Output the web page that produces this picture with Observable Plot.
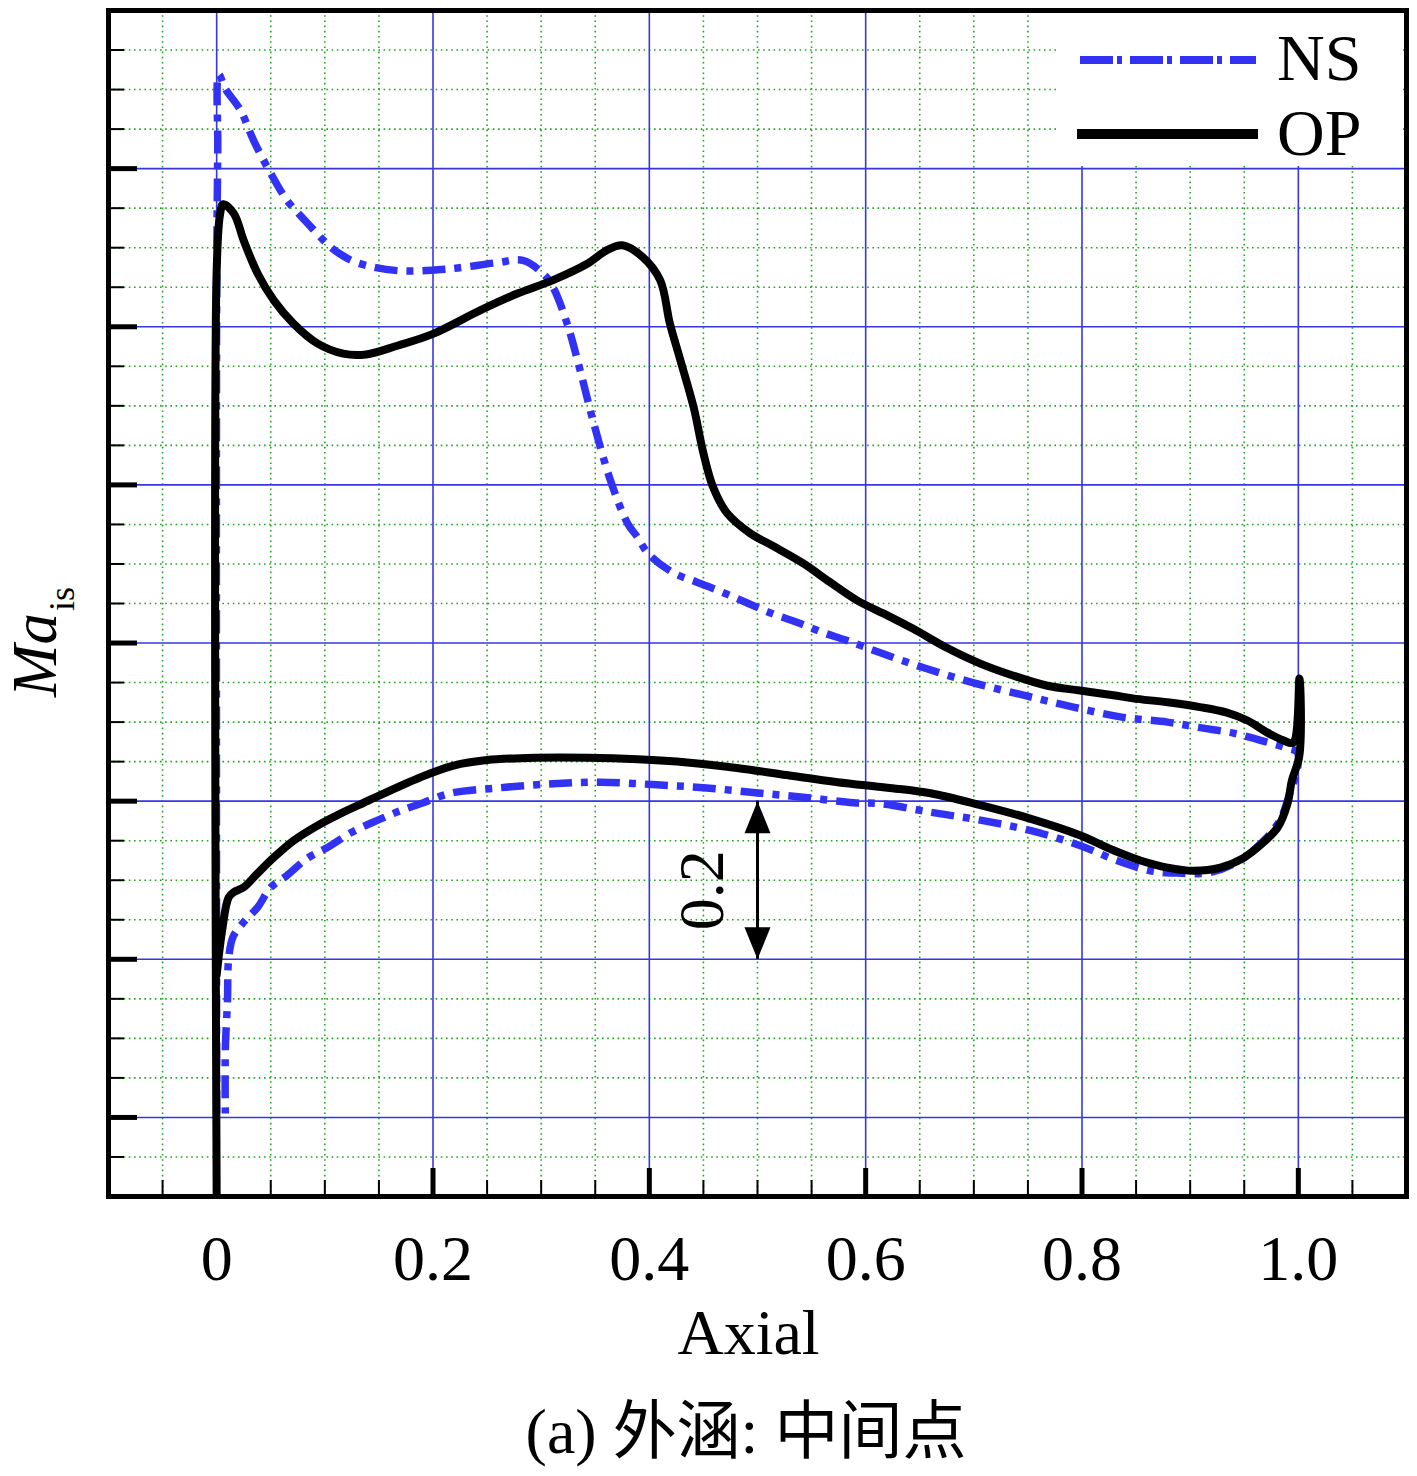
<!DOCTYPE html>
<html>
<head>
<meta charset="utf-8">
<script src="https://cdn.jsdelivr.net/npm/d3@7"></script>
<script src="https://cdn.jsdelivr.net/npm/@observablehq/plot@0.6"></script>
<style>
  html, body { margin: 0; padding: 0; background: #fff; }
  #chart svg { display: block; }
  #caption {
    width: 1417px; box-sizing: border-box; padding-left: 75px;
    text-align: center; font-family: "Liberation Serif", "Noto Sans CJK SC", serif;
    font-size: 64px; line-height: 80px; height: 96px; margin-top: 12px; color: #000;
  }
</style>
</head>
<body>
<div id="chart"></div>
<div id="caption">(a) 外涵: 中间点</div>
<script>
// ---- data ----
// OP (solid black): leading edge -> suction side -> trailing edge -> pressure side -> leading edge
const opX = [0.000, 0.000, 0.003, 0.006, 0.016, 0.025, 0.038, 0.053, 0.071, 0.093, 0.117, 0.138, 0.167, 0.200,
  0.244, 0.278, 0.311, 0.343, 0.361, 0.375, 0.394, 0.410, 0.419, 0.428, 0.441, 0.450, 0.459, 0.472, 0.493,
  0.514, 0.542, 0.567, 0.592, 0.620, 0.644, 0.675, 0.706, 0.736, 0.768, 0.798, 0.829, 0.847, 0.879, 0.909,
  0.934, 0.953, 0.971, 0.986, 0.995, 1.001, 1.001,
  0.994, 0.990, 0.981, 0.967, 0.949, 0.928, 0.903, 0.879, 0.854, 0.829, 0.798, 0.752, 0.706, 0.660, 0.620,
  0.574, 0.527, 0.481, 0.435, 0.389, 0.343, 0.296, 0.250, 0.219, 0.188, 0.136, 0.114, 0.093, 0.071, 0.053,
  0.038, 0.025, 0.016, 0.011, 0.005, 0.000];
const opY = [-0.100, 1.071, 1.141, 1.155, 1.143, 1.109, 1.067, 1.033, 1.004, 0.979, 0.966, 0.965, 0.976, 0.991,
  1.021, 1.042, 1.059, 1.080, 1.097, 1.103, 1.088, 1.059, 1.004, 0.961, 0.898, 0.840, 0.797, 0.764, 0.739,
  0.723, 0.701, 0.677, 0.654, 0.635, 0.618, 0.594, 0.574, 0.559, 0.546, 0.540, 0.534, 0.530, 0.525, 0.519,
  0.512, 0.502, 0.487, 0.477, 0.474, 0.555, 0.458,
  0.426, 0.397, 0.367, 0.347, 0.328, 0.316, 0.312, 0.316, 0.325, 0.338, 0.357, 0.378, 0.395, 0.410, 0.417,
  0.424, 0.433, 0.442, 0.449, 0.453, 0.455, 0.455, 0.452, 0.445, 0.430, 0.398, 0.384, 0.369, 0.350, 0.329,
  0.309, 0.291, 0.285, 0.278, 0.236, 0.180];

// NS (blue dash-dot): same ordering
const nsX = [0.000, 0.000, 0.001, 0.002, 0.008, 0.022, 0.034, 0.050, 0.065, 0.084, 0.102, 0.113, 0.130, 0.167,
  0.213, 0.259, 0.283, 0.302, 0.311, 0.324, 0.336, 0.348, 0.364, 0.380, 0.389, 0.399, 0.422, 0.444, 0.468,
  0.490, 0.514, 0.537, 0.561, 0.583, 0.613, 0.653, 0.699, 0.746, 0.792, 0.838, 0.879, 0.909, 0.940, 0.965,
  0.990, 0.999,
  0.999, 0.993, 0.983, 0.968, 0.946, 0.919, 0.888, 0.863, 0.832, 0.798, 0.752, 0.706, 0.660, 0.613, 0.589,
  0.542, 0.496, 0.450, 0.403, 0.355, 0.311, 0.262, 0.216, 0.191, 0.170, 0.149, 0.124, 0.102, 0.084, 0.065,
  0.050, 0.038, 0.025, 0.015, 0.011, 0.010, 0.008, 0.008];
const nsY = [0.005, 1.033, 1.223, 1.319, 1.301, 1.274, 1.236, 1.194, 1.160, 1.131, 1.105, 1.093, 1.081, 1.071,
  1.073, 1.081, 1.084, 1.067, 1.050, 1.004, 0.945, 0.881, 0.806, 0.751, 0.734, 0.713, 0.689, 0.677, 0.664,
  0.651, 0.637, 0.626, 0.613, 0.603, 0.588, 0.569, 0.550, 0.534, 0.519, 0.506, 0.500, 0.493, 0.486, 0.477,
  0.467, 0.462,
  0.439, 0.414, 0.376, 0.350, 0.325, 0.310, 0.309, 0.312, 0.325, 0.344, 0.363, 0.376, 0.386, 0.397, 0.398,
  0.405, 0.411, 0.417, 0.421, 0.424, 0.422, 0.417, 0.410, 0.398, 0.388, 0.376, 0.360, 0.341, 0.328, 0.306,
  0.291, 0.266, 0.247, 0.228, 0.199, 0.148, 0.085, 0.005];

// axes / ticks
const xDomain = [-0.1, 1.1];
const yDomain = [-0.1, 1.4];
const xMajor = [0, 0.2, 0.4, 0.6, 0.8, 1.0];
const xTickLabels = ["0", "0.2", "0.4", "0.6", "0.8", "1.0"];
const xMinor = [-0.05, 0.05, 0.1, 0.15, 0.25, 0.3, 0.35, 0.45, 0.5, 0.55, 0.65, 0.7, 0.75, 0.85, 0.9, 0.95, 1.05];
const yMajor = [0, 0.2, 0.4, 0.6, 0.8, 1.0, 1.2, 1.4];
const yMajorTicks = [0, 0.2, 0.4, 0.6, 0.8, 1.0, 1.2];
const yMinor = [-0.05, 0.05, 0.1, 0.15, 0.25, 0.3, 0.35, 0.45, 0.5, 0.55, 0.65, 0.7, 0.75, 0.85, 0.9, 0.95,
  1.05, 1.1, 1.15, 1.25, 1.3, 1.35];

// annotation (double arrow showing 0.2 span)
const arrowX = [0.5];
const arrowYs = [0.2, 0.4];
const arrowLabel = ["0.2"];

const seriesNames = ["NS", "OP"];
const xLabel = "Axial";

// ---- layout ----
const W = 1417, H = 1380;
const mL = 108, mR = 11, mT = 10, mB = 184;
const innerW = W - mL - mR, innerH = H - mT - mB;

const BLUE_GRID = "#3636e6";
const GREEN_GRID = "#1fa51f";
const NS_BLUE = "#3232f5";
const FONT = "Liberation Serif, Times New Roman, serif";

const opData = opX.map((x, i) => ({x, y: opY[i]}));
const nsData = nsX.map((x, i) => ({x, y: nsY[i]}));

const headUp = {draw(ctx) { ctx.moveTo(0, 0); ctx.lineTo(13, 32); ctx.lineTo(-13, 32); ctx.closePath(); }};
const headDown = {draw(ctx) { ctx.moveTo(0, 0); ctx.lineTo(13, -32); ctx.lineTo(-13, -32); ctx.closePath(); }};

const plot = Plot.plot({
  width: W, height: H,
  marginLeft: mL, marginRight: mR, marginTop: mT, marginBottom: mB,
  x: {domain: xDomain, axis: null},
  y: {domain: yDomain, axis: null},
  style: {fontFamily: FONT, background: "white", color: "black", overflow: "visible"},
  marks: [
    Plot.ruleX(xMinor, {stroke: GREEN_GRID, strokeWidth: 1.6, strokeDasharray: "1.6,3.6"}),
    Plot.ruleY(yMinor, {stroke: GREEN_GRID, strokeWidth: 1.6, strokeDasharray: "1.6,3.6"}),
    Plot.ruleX(xMajor, {stroke: BLUE_GRID, strokeWidth: 1.6}),
    Plot.ruleY(yMajor, {stroke: BLUE_GRID, strokeWidth: 1.6}),
    Plot.line(nsData, {x: "x", y: "y", stroke: NS_BLUE, strokeWidth: 7.5, strokeDasharray: "23,9,7,9",
      strokeLinecap: "butt", strokeLinejoin: "round", curve: "catmull-rom", clip: true}),
    Plot.line(opData, {x: "x", y: "y", stroke: "black", strokeWidth: 8, strokeLinejoin: "round",
      curve: "catmull-rom", clip: true}),
    Plot.ruleX(arrowX, {y1: arrowYs[0], y2: arrowYs[1], stroke: "black", strokeWidth: 3}),
    Plot.dot(arrowX, {x: d => d, y: arrowYs[1], symbol: headUp, fill: "black", stroke: "none", r: 10}),
    Plot.dot(arrowX, {x: d => d, y: arrowYs[0], symbol: headDown, fill: "black", stroke: "none", r: 10}),
    Plot.text(arrowLabel, {x: arrowX[0], y: (arrowYs[0] + arrowYs[1]) / 2, text: d => d, rotate: -90,
      dx: -55, dy: 10, fontSize: 64, fill: "black", lineAnchor: "middle", textAnchor: "middle"}),
    Plot.frame({stroke: "black", strokeWidth: 5}),
    Plot.tickX(xMajor, {x: d => d, stroke: "black", strokeWidth: 5, insetTop: innerH - 28}),
    Plot.tickX(xMinor, {x: d => d, stroke: "black", strokeWidth: 2, insetTop: innerH - 16}),
    Plot.tickY(yMajorTicks, {y: d => d, stroke: "black", strokeWidth: 5, insetRight: innerW - 29}),
    Plot.tickY(yMinor, {y: d => d, stroke: "black", strokeWidth: 2, insetRight: innerW - 16}),
    Plot.text(xMajor, {x: d => d, text: (d, i) => xTickLabels[i], frameAnchor: "bottom", dy: 63,
      fontSize: 64, fill: "black", lineAnchor: "middle", textAnchor: "middle"}),
    Plot.text([xLabel], {text: d => d, frameAnchor: "bottom", dy: 137, dx: -9, fontSize: 64,
      fill: "black", lineAnchor: "middle"})
  ]
});

document.getElementById("chart").appendChild(plot);

const svg = d3.select(plot);
const lg = svg.append("g").attr("class", "legend").attr("text-anchor", "start");
lg.append("rect").attr("x", 1056).attr("y", 13).attr("width", 347).attr("height", 153).attr("fill", "white");
lg.append("line").attr("x1", 1080).attr("x2", 1256).attr("y1", 60).attr("y2", 60)
  .attr("stroke", NS_BLUE).attr("stroke-width", 8).attr("stroke-dasharray", "33,4,5,8");
lg.append("line").attr("x1", 1077).attr("x2", 1258).attr("y1", 134).attr("y2", 134)
  .attr("stroke", "black").attr("stroke-width", 10);
lg.append("text").attr("x", 1277).attr("y", 80).attr("font-size", 66).attr("font-family", FONT)
  .attr("text-anchor", "start").attr("fill", "black").text(seriesNames[0]);
lg.append("text").attr("x", 1277).attr("y", 155).attr("font-size", 66).attr("font-family", FONT)
  .attr("text-anchor", "start").attr("fill", "black").text(seriesNames[1]);

const yl = svg.append("text").attr("transform", "translate(56,697) rotate(-90)")
  .attr("font-family", FONT).attr("fill", "black").attr("text-anchor", "start");
yl.append("tspan").attr("font-size", 63).attr("font-style", "italic").text("Ma");
yl.append("tspan").attr("font-size", 36).attr("dy", 18).attr("dx", 2).text("is");
</script>
</body>
</html>
